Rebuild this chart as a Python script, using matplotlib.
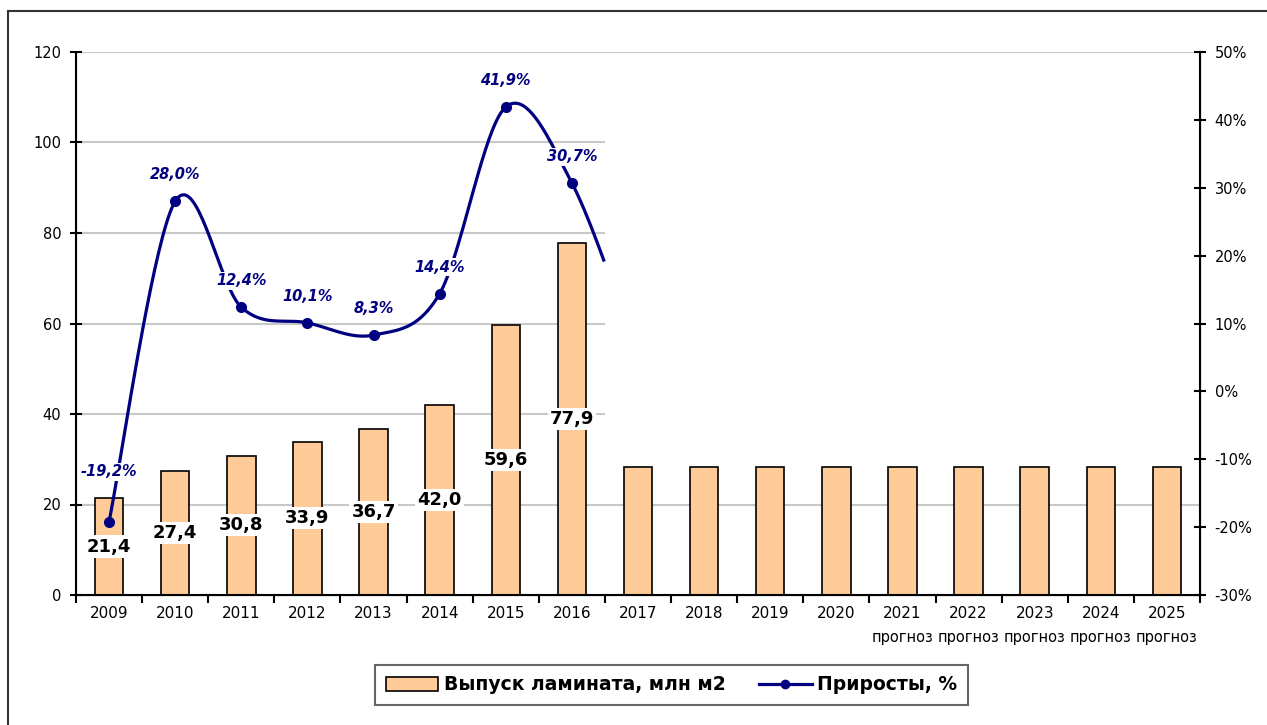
import numpy as np
import matplotlib
matplotlib.use('Agg')
import matplotlib.pyplot as plt
from matplotlib.patches import Rectangle, Patch
from matplotlib.lines import Line2D

plt.rcParams['font.family'] = ['DejaVu Sans']

# данные
years = ['2009', '2010', '2011', '2012', '2013', '2014', '2015', '2016', '2017',
         '2018', '2019', '2020', '2021', '2022', '2023', '2024', '2025']
output = [21.4, 27.4, 30.8, 33.9, 36.7, 42.0, 59.6, 77.9, 28.3,
          28.3, 28.3, 28.3, 28.3, 28.3, 28.3, 28.3, 28.3]
growth = [-19.2, 28.0, 12.4, 10.1, 8.3, 14.4, 41.9, 30.7]
growth_next = 5.0  # 2017, only shapes the tail of the curve (rest is hidden in the original)
forecast_years = ['2021', '2022', '2023', '2024', '2025']

BAR = '#FFCC99'
NAVY = '#000080'


def fmt(v, pct=False):
    s = f'{v:.1f}'.replace('.', ',')
    return s + '%' if pct else s


def smooth(x, y, n=40):
    # excel-like smoothed line (bezier through the points)
    p = np.column_stack([x, y]).astype(float)
    p = np.vstack([p[0], p, p[-1]])
    out = []
    t = np.linspace(0, 1, n)[:, None]
    for i in range(1, len(p) - 2):
        p0, p1, p2, p3 = p[i - 1], p[i], p[i + 1], p[i + 2]
        c1 = p1 + (p2 - p0) / 6
        c2 = p2 - (p3 - p1) / 6
        seg = (1 - t) ** 3 * p1 + 3 * (1 - t) ** 2 * t * c1 + 3 * (1 - t) * t ** 2 * c2 + t ** 3 * p2
        out.append(seg)
    out = np.vstack(out)
    return out[:, 0], out[:, 1]


fig = plt.figure(figsize=(12.67, 7.25), dpi=100)
ax = fig.add_axes([76 / 1267, 130 / 725, 1124 / 1267, 543 / 725])
ax2 = ax.twinx()

x = np.arange(len(years))
n_known = len(growth)
ax.bar(x, output, width=0.43, color=BAR, edgecolor='black', linewidth=1.2, zorder=2)
ax.set_xlim(-0.5, len(years) - 0.5)
ax.set_ylim(0, 120)
ax.set_yticks(np.arange(0, 121, 20))
ax.yaxis.grid(True, color='#C8C8C8', linewidth=1.5)
ax.set_axisbelow(True)

# white area over the forecast part (as in the source picture)
ax.add_patch(Rectangle((n_known - 0.5, output[-1] + 0.3), len(years) - n_known, 117 - output[-1] - 0.3,
                       facecolor='white', edgecolor='none', zorder=1))

for i, v in enumerate(output[:n_known]):
    ax.text(i, v / 2, fmt(v), ha='center', va='center', fontsize=13, fontweight='bold',
            bbox=dict(facecolor='white', edgecolor='none', pad=1.5), zorder=4)

# x axis: labels at centers, ticks at category borders
ax.set_xticks(x)
ax.set_xticklabels(years, fontsize=11)
ax.set_xticks(np.arange(-0.5, len(years)), minor=True)
ax.tick_params(axis='x', which='major', length=0, pad=8)
ax.tick_params(axis='x', which='minor', length=6, width=1.5, direction='out')
ax.tick_params(axis='y', length=9, width=1.5, direction='inout', labelsize=10.5, pad=6)
for yr in forecast_years:
    ax.text(years.index(yr), -0.064, 'прогноз', transform=ax.get_xaxis_transform(),
            ha='center', va='top', fontsize=10.5)

ax.spines['top'].set_visible(False)
ax2.spines['top'].set_visible(False)
for s in ['left', 'bottom']:
    ax.spines[s].set_linewidth(1.5)
ax2.spines['right'].set_linewidth(1.5)

# growth line on the right axis, cut at the 2016/2017 border
gx, gy = smooth(list(x[:n_known]) + [n_known], growth + [growth_next])
keep = gx <= n_known - 0.5
ax2.plot(gx[keep], gy[keep], color=NAVY, linewidth=2.3, zorder=2, solid_capstyle='butt')
ax2.plot(x[:n_known], growth, 'o', color=NAVY, markersize=7, zorder=2)
ax2.set_ylim(-30, 50)
ax2.set_yticks(np.arange(-30, 51, 10))
ax2.set_yticklabels([f'{v}%' for v in range(-30, 51, 10)])
ax2.tick_params(axis='y', length=9, width=1.5, direction='inout', labelsize=10.5, pad=6)

offsets = [36, 19, 19, 19, 19, 19, 19, 19]
for i, v in enumerate(growth):
    ax2.annotate(fmt(v, pct=True), (i, v), xytext=(0, offsets[i]), textcoords='offset points',
                 ha='center', va='center', fontsize=10.5, fontweight='bold', fontstyle='italic',
                 color=NAVY, bbox=dict(facecolor='white', edgecolor='none', pad=1), zorder=3)

# legend
handles = [Patch(facecolor=BAR, edgecolor='black', linewidth=1.2),
           Line2D([0], [0], color=NAVY, linewidth=2.3, marker='o', markersize=6)]
leg = fig.legend(handles, ['Выпуск ламината, млн м2', 'Приросты, %'], loc='center',
                 bbox_to_anchor=(671.5 / 1267, 1 - 685 / 725), ncol=2, frameon=True,
                 fancybox=False, edgecolor='#404040', prop={'weight': 'bold', 'size': 13.5},
                 handlelength=2.8, handletextpad=0.3, columnspacing=1.8, borderpad=0.55,
                 borderaxespad=0.3)
leg.get_frame().set_linewidth(1.5)
leg._legend_box.align = 'center'

# outer frame (only top/left fall inside the picture)
fig.patches.append(Rectangle((8 / 1267, -0.2), 1.5, 1.2 - 11 / 725, transform=fig.transFigure,
                             fill=False, edgecolor='#333333', linewidth=1.5))

fig.savefig('out.png', dpi=100)
